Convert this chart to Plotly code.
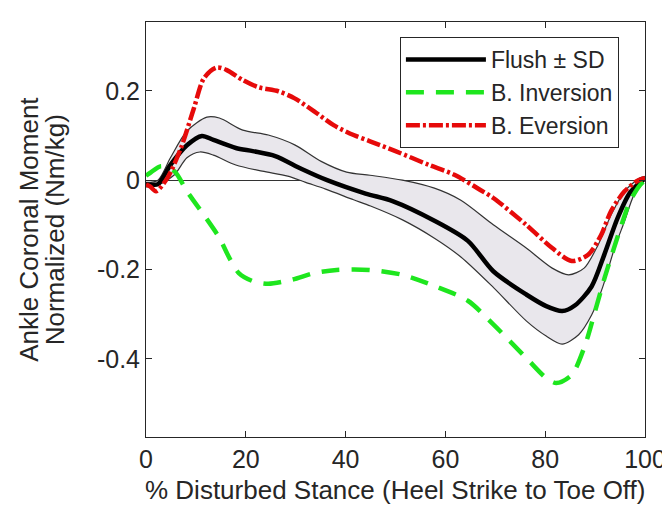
import plotly.graph_objects as go

# ---- data ----
mean_x = [0, 1, 2.4, 4.9, 8.2, 11.2, 13.5, 18, 21.4, 25.9, 31.2, 36.3, 44, 49.4, 57.8, 64.5, 69.6, 76.2, 80.2, 83.4, 86, 89.3, 91.9, 94.5, 97, 100]
mean_y = [-0.01, -0.01, -0.009, 0.034, 0.078, 0.099, 0.090, 0.072, 0.065, 0.054, 0.025, 0.0, -0.03, -0.047, -0.091, -0.136, -0.204, -0.256, -0.282, -0.293, -0.28, -0.238, -0.165, -0.085, -0.028, 0.005]

upper_x = [0, 2.4, 4.9, 8.2, 12.2, 14.7, 19.4, 24.5, 29.8, 35.1, 40.2, 44.9, 51.4, 57.8, 63.1, 69.6, 76.2, 81.4, 84.7, 87.8, 90.6, 93.2, 95.9, 99, 100]
upper_y = [-0.005, 0.0, 0.05, 0.11, 0.141, 0.139, 0.112, 0.101, 0.079, 0.042, 0.018, 0.011, 0.0, -0.018, -0.045, -0.1, -0.152, -0.197, -0.212, -0.197, -0.145, -0.078, -0.025, 0.005, 0.008]

lower_x = [0, 2.4, 5.7, 8.2, 10.8, 13.5, 18, 23.3, 28.4, 32, 36, 41.6, 45, 51.4, 57.8, 63.1, 69.6, 76.2, 80.2, 83.4, 86.7, 89.3, 91.5, 93.9, 95.9, 97.8, 100]
lower_y = [-0.015, -0.011, 0.012, 0.05, 0.063, 0.056, 0.034, 0.02, 0.009, -0.005, -0.02, -0.044, -0.058, -0.089, -0.130, -0.172, -0.240, -0.315, -0.349, -0.367, -0.346, -0.302, -0.24, -0.152, -0.092, -0.033, 0.0]

inv_x = [0, 0.8, 3, 5.7, 8.2, 11.6, 14.7, 16.7, 18.6, 21.4, 24.5, 29.2, 33.7, 38.2, 44.9, 51.4, 57.8, 64.5, 69.6, 76.2, 80.2, 82.2, 85.3, 88, 90, 91.9, 93.7, 95.1, 97, 99, 100]
inv_y = [0.01, 0.016, 0.031, 0.02, -0.025, -0.078, -0.129, -0.174, -0.208, -0.226, -0.232, -0.223, -0.208, -0.201, -0.201, -0.212, -0.237, -0.27, -0.323, -0.398, -0.443, -0.454, -0.436, -0.369, -0.293, -0.219, -0.155, -0.107, -0.047, -0.011, 0.0]

ev_x = [0, 0.8, 2, 4.3, 7, 9.6, 11.6, 14.1, 16.1, 19.4, 22.5, 26.5, 29.8, 33.7, 37.6, 41.6, 44.9, 50, 56.7, 61.8, 67, 69.6, 76.2, 81.4, 85.3, 88.6, 91.2, 93.2, 95.9, 98.4, 100]
ev_y = [-0.01, -0.014, -0.025, 0.005, 0.072, 0.161, 0.228, 0.252, 0.247, 0.224, 0.208, 0.199, 0.183, 0.154, 0.123, 0.101, 0.087, 0.065, 0.034, 0.012, -0.022, -0.04, -0.1, -0.152, -0.181, -0.167, -0.123, -0.069, -0.025, -0.002, 0.005]

x_ticks = [0, 20, 40, 60, 80, 100]
x_ticktext = ["0", "20", "40", "60", "80", "100"]
y_ticks = [-0.4, -0.2, 0, 0.2]
y_ticktext = ["-0.4", "-0.2", "0", "0.2"]

series_names = ["Flush \u00b1 SD", "B. Inversion", "B. Eversion"]
x_title = "% Disturbed Stance (Heel Strike to Toe Off)"
y_title_lines = ["Ankle Coronal Moment", "Normalized (Nm/kg)"]

# ---- figure ----
FONT = "Liberation Sans, Arial, sans-serif"
TXT = "#262626"
fig = go.Figure()

fig.add_trace(go.Scatter(x=lower_x, y=lower_y, mode="lines", line=dict(color="#333333", width=1.2, shape="spline", smoothing=0.8),
                         showlegend=False, hoverinfo="skip"))
fig.add_trace(go.Scatter(x=upper_x, y=upper_y, mode="lines", line=dict(color="#333333", width=1.2, shape="spline", smoothing=0.8),
                         fill="tonexty", fillcolor="#E9E7EC", showlegend=False, hoverinfo="skip"))
fig.add_trace(go.Scatter(x=mean_x, y=mean_y, mode="lines", name=series_names[0],
                         line=dict(color="#000000", width=4.5, shape="spline", smoothing=0.8)))
fig.add_trace(go.Scatter(x=inv_x, y=inv_y, mode="lines", name=series_names[1],
                         line=dict(color="#1EE61E", width=4.5, dash="18px,12px", shape="spline", smoothing=0.8)))
fig.add_trace(go.Scatter(x=ev_x, y=ev_y, mode="lines", name=series_names[2],
                         line=dict(color="#E60A0A", width=4.5, dash="14px,3px,3px,3px", shape="spline", smoothing=0.8)))

axis_common = dict(showline=True, mirror="ticks", linecolor="#262626", linewidth=1,
                   ticks="inside", ticklen=6, tickcolor="#262626", showgrid=False,
                   tickfont=dict(family=FONT, size=25, color=TXT))

L, R, T, B = 138, 23, 14, 78
W, H = 670, 507
pw, ph = W - L - R, H - T - B

fig.update_layout(
    width=W, height=H,
    margin=dict(l=L, r=R, t=T, b=B),
    paper_bgcolor="white", plot_bgcolor="white",
    xaxis=dict(range=[0, 100], tickvals=x_ticks, ticktext=x_ticktext, zeroline=False, **axis_common),
    yaxis=dict(range=[-0.575, 0.354], tickvals=y_ticks, ticktext=y_ticktext,
               zeroline=True, zerolinecolor="#333333", zerolinewidth=1.2, **axis_common),
    legend=dict(x=(397 - L) / pw, y=1 - (29 - T) / ph, xanchor="left", yanchor="top",
                traceorder="normal",
                bordercolor="#262626", borderwidth=1, bgcolor="white",
                font=dict(family=FONT, size=23, color=TXT), itemwidth=80, tracegroupgap=0),
    showlegend=True,
)

fig.add_annotation(text=x_title, xref="paper", yref="paper", x=0.5, y=-(482 - (H - B)) / ph,
                   xanchor="center", yanchor="middle", showarrow=False,
                   font=dict(family=FONT, size=26, color=TXT))
for cx, line in zip([18, 45], y_title_lines):
    fig.add_annotation(text=line, xref="paper", yref="paper", x=(cx - L) / pw, y=0.5,
                       xanchor="center", yanchor="middle", textangle=-90, showarrow=False,
                       font=dict(family=FONT, size=26, color=TXT))

fig.write_html("out.html")
